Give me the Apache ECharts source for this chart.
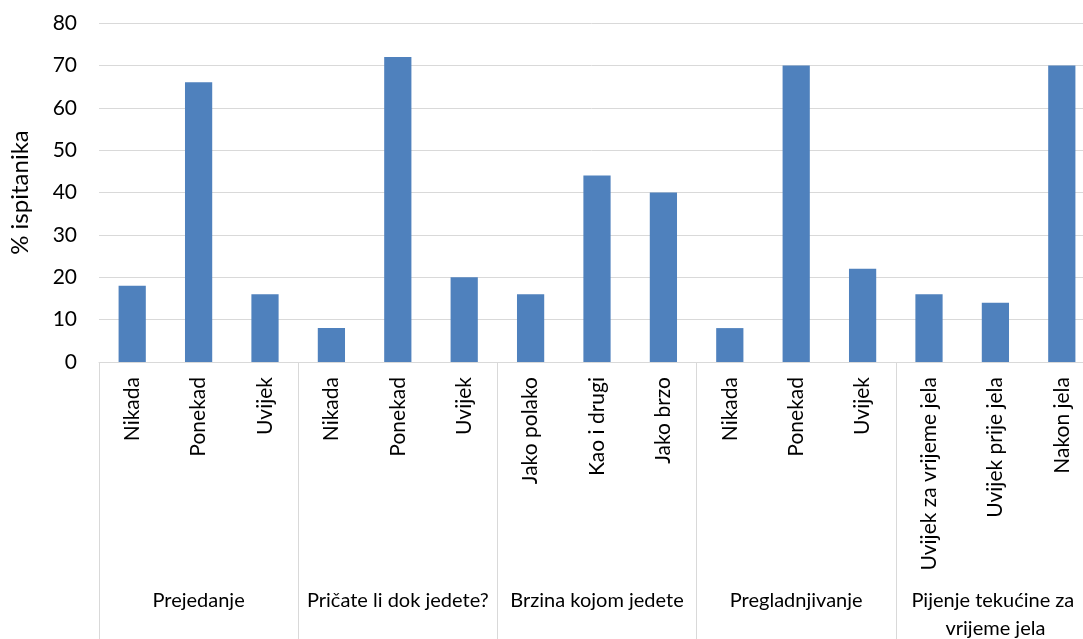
<!DOCTYPE html>
<html>
<head>
<meta charset="utf-8">
<script src="https://cdn.jsdelivr.net/npm/echarts@6/dist/echarts.min.js"></script>
<style>html,body{margin:0;padding:0;background:#fff}#c{width:1083px;height:639px}</style>
</head>
<body>
<div id="c"></div>
<script>
const categories = ["Nikada","Ponekad","Uvijek","Nikada","Ponekad","Uvijek","Jako polako","Kao i drugi","Jako brzo","Nikada","Ponekad","Uvijek","Uvijek za vrijeme jela","Uvijek prije jela","Nakon jela"];
const groups = ["Prejedanje","Pričate li dok jedete?","Brzina kojom jedete","Pregladnjivanje","Pijenje tekućine za vrijeme jela"];
const values = [18,66,16,8,72,20,16,44,40,8,70,22,16,14,70];
const yTicks = [0,10,20,30,40,50,60,70,80];

const font = "Lato, 'Open Sans', sans-serif";
const fs = 21;
const chart = echarts.init(document.getElementById('c'), null, {renderer:'canvas'});
chart.setOption({
  animation:false,
  grid:{left:99,top:23,width:996,height:339,containLabel:false,outerBoundsMode:'none'},
  xAxis:[{
    type:'category', data:categories,
    axisLine:{show:true,lineStyle:{color:'#d9d9d9',width:1}},
    axisTick:{show:false},
    axisLabel:{rotate:90,margin:15,color:'#000',fontSize:fs,fontFamily:font,interval:0}
  },{
    type:'category', data:groups, position:'bottom',
    axisLine:{show:false},
    axisTick:{show:true,length:280,lineStyle:{color:'#d9d9d9',width:1}},
    axisLabel:{margin:225,color:'#000',fontSize:20,fontFamily:font,interval:0,lineHeight:28,
      width:199,overflow:'break',verticalAlign:'top'}
  }],
  yAxis:{
    type:'value', min:yTicks[0], max:yTicks[yTicks.length-1], interval:10,
    name:'% ispitanika', nameLocation:'middle', nameGap:67, nameRotate:90,
    nameTextStyle:{color:'#000',fontSize:24,fontFamily:font},
    axisLine:{show:false}, axisTick:{show:false},
    axisLabel:{margin:22,color:'#000',fontSize:fs,fontFamily:font},
    splitLine:{lineStyle:{color:'#d9d9d9',width:1}}
  },
  series:[{
    type:'bar', data:values, xAxisIndex:0, barWidth:'41%',
    itemStyle:{color:'#4f81bd'}
  }]
});
</script>
</body>
</html>
